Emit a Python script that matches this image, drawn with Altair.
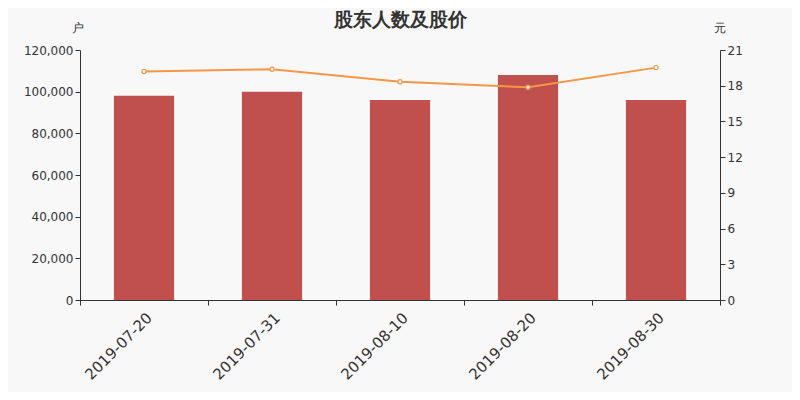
import altair as alt
import pandas as pd

dates = ["2019-07-20", "2019-07-31", "2019-08-10", "2019-08-20", "2019-08-30"]
holders = [98000, 100000, 96000, 108000, 96000]
prices = [19.2, 19.38, 18.34, 17.87, 19.52]

df = pd.DataFrame({"date": dates, "holders": holders, "price": prices})

FONT = "DejaVu Sans"
xscale = alt.Scale(paddingInner=0, paddingOuter=0)
x = alt.X("date:N", sort=dates, title=None, scale=xscale,
          axis=alt.Axis(labelAngle=-45, labelFontSize=15, labelColor="#333",
                        domainColor="#333", tickColor="#333", tickBand="extent",
                        tickSize=5, labelPadding=5, labelFont=FONT))

bars = alt.Chart(df).mark_bar(color="#c0504d", width=alt.RelativeBandSize(0.47)).encode(
    x=x,
    y=alt.Y("holders:Q", scale=alt.Scale(domain=[0, 120000]),
            axis=alt.Axis(title="户", titleAngle=0, titleX=-3, titleY=-16,
                          titleFontWeight="normal", titleFontSize=12, titleColor="#333",
                          values=[0, 20000, 40000, 60000, 80000, 100000, 120000],
                          format=",.0f", grid=False, labelFontSize=12, labelColor="#333",
                          domainColor="#333", tickColor="#333", labelFont=FONT,
                          titleFont=FONT, titleAlign="center")),
)

raxis = alt.Axis(title="元", titleAngle=0, titleX=-1, titleY=-16,
                 titleFontWeight="normal", titleFontSize=12, titleColor="#333",
                 values=[0, 3, 6, 9, 12, 15, 18, 21], grid=False,
                 labelFontSize=12, labelColor="#333", orient="right",
                 domainColor="#333", tickColor="#333", labelFont=FONT,
                 titleFont=FONT, titleAlign="center", labelOverlap=False)

line = alt.Chart(df).mark_line(color="#f79646", strokeWidth=2).encode(
    x=alt.X("date:N", sort=dates, scale=xscale),
    y=alt.Y("price:Q", scale=alt.Scale(domain=[0, 21]), axis=raxis),
)
points = alt.Chart(df).mark_point(color="#f79646", fill="white", filled=True,
                                  stroke="#f79646", size=18, strokeWidth=1.2, opacity=1).encode(
    x=alt.X("date:N", sort=dates, scale=xscale),
    y=alt.Y("price:Q", scale=alt.Scale(domain=[0, 21]), axis=raxis),
)

right = alt.layer(line, points)

chart = alt.layer(bars, right).resolve_scale(y="independent").properties(
    width=640, height=250,
    background="#f8f8f8",
    autosize=alt.AutoSizeParams(type="none"),
    padding={"left": 72, "top": 42, "right": 72, "bottom": 92},
    title=alt.TitleParams("股东人数及股价", fontSize=19, fontWeight="bold", color="#333",
                          anchor="middle", offset=-9, font=FONT),
).configure_view(stroke=None).configure_axis(labelFont=FONT)

chart.save("out.html", embed_options={"renderer": "svg", "actions": False})
